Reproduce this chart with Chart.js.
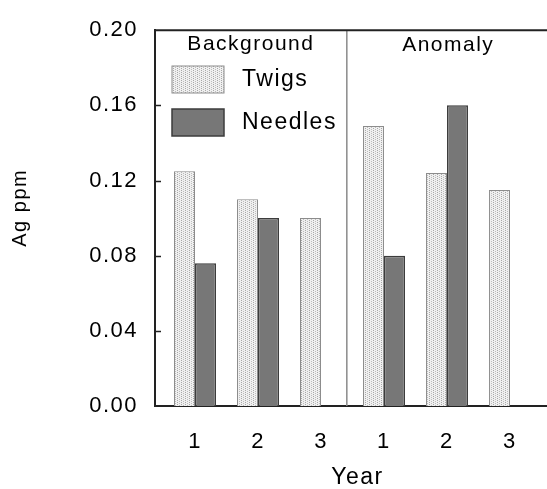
<!DOCTYPE html>
<html>
<head>
<meta charset="utf-8">
<script src="https://cdn.jsdelivr.net/npm/chart.js@4/dist/chart.umd.min.js"></script>
<style>
  html, body { margin: 0; padding: 0; background: #fff; }
  #wrap { width: 547px; height: 489px; overflow: hidden; }
</style>
</head>
<body>
<div id="wrap"><canvas id="agChart" width="562" height="489"></canvas></div>
<script>
// Ag concentration in spruce samples, three sampling years per site
const groups = ['Background', 'Anomaly'];
const years = ['1', '2', '3', '1', '2', '3'];
const twigs = [0.125, 0.110, 0.100, 0.149, 0.124, 0.115];
const needles = [0.076, 0.100, null, 0.080, 0.160, null];
const yTicks = [0.00, 0.04, 0.08, 0.12, 0.16, 0.20];

const INK = '#000';
const FONT = "'Liberation Sans', Arial, sans-serif";

// light stipple used for the twig bars
function stipple() {
    const c = document.createElement('canvas');
    c.width = 4; c.height = 2;
    const g = c.getContext('2d');
    g.fillStyle = '#f0f0f0';
    g.fillRect(0, 0, 4, 2);
    g.fillStyle = '#a8a8a8';
    g.fillRect(1, 0, 1, 1);
    g.fillStyle = '#bdbdbd';
    g.fillRect(3, 1, 1, 1);
    return g.createPattern(c, 'repeat');
}

const canvas = document.getElementById('agChart');
const ctx = canvas.getContext('2d');

const framePlugin = {
    id: 'frame',
    beforeUpdate(chart) { chart.ctx.letterSpacing = '1.5px'; },
    beforeDraw(chart) { chart.ctx.letterSpacing = '1.5px'; },
    afterDatasetsDraw(chart) {
        const { ctx, chartArea: a, scales } = chart;
        const x = scales.x, y = scales.y;
        ctx.save();

        // divider between the two sites
        const dx = x.getPixelForValue(3.41);
        ctx.strokeStyle = '#8a8a8a';
        ctx.lineWidth = 1.5;
        ctx.beginPath();
        ctx.moveTo(dx, a.top);
        ctx.lineTo(dx, a.bottom);
        ctx.stroke();

        // top frame line
        ctx.strokeStyle = '#222';
        ctx.lineWidth = 2;
        ctx.beginPath();
        ctx.moveTo(a.left, a.top);
        ctx.lineTo(a.right + 2, a.top);
        ctx.stroke();

        // inward tick marks on the y axis
        ctx.lineWidth = 1.5;
        yTicks.slice(1, -1).forEach(v => {
            const py = Math.round(y.getPixelForValue(v)) + 0.5;
            ctx.beginPath();
            ctx.moveTo(a.left, py);
            ctx.lineTo(a.left + 6, py);
            ctx.stroke();
        });

        ctx.letterSpacing = '1.5px';
        ctx.fillStyle = INK;
        ctx.textBaseline = 'middle';

        // y axis title
        ctx.save();
        ctx.translate(20, y.getPixelForValue(0.1055));
        ctx.rotate(-Math.PI / 2);
        ctx.textAlign = 'center';
        ctx.font = '20px ' + FONT;
        ctx.fillText('Ag ppm', 0, 0);
        ctx.restore();

        // site labels
        ctx.font = '21px ' + FONT;
        ctx.textAlign = 'center';
        ctx.fillText(groups[0], (a.left + dx) / 2, 44);
        ctx.fillText(groups[1], x.getPixelForValue(5.02), 45);

        // legend
        const ds = chart.data.datasets;
        const rows = [80, 123];
        ctx.font = '23px ' + FONT;
        ctx.textAlign = 'left';
        ds.forEach((d, i) => {
            ctx.fillStyle = d.backgroundColor;
            ctx.fillRect(a.left + 17, rows[i] - 14, 52, 27);
            ctx.strokeStyle = d.borderColor;
            ctx.lineWidth = d.borderWidth;
            ctx.strokeRect(a.left + 17, rows[i] - 14, 52, 27);
            ctx.fillStyle = INK;
            ctx.fillText(d.label, a.left + 87, rows[i]);
        });
        ctx.restore();
    }
};

new Chart(ctx, {
    type: 'bar',
    data: {
        datasets: [{
            label: 'Twigs',
            data: twigs.map((v, i) => ({ x: i + 1, y: v })),
            backgroundColor: stipple(),
            borderColor: '#8c8c8c',
            borderWidth: 1
        }, {
            label: 'Needles',
            data: needles.map((v, i) => ({ x: i + 1, y: v })),
            backgroundColor: '#777777',
            borderColor: '#3c3c3c',
            borderWidth: 1.5
        }]
    },
    options: {
        responsive: false,
        animation: false,
        devicePixelRatio: 1,
        categoryPercentage: 0.667,
        barPercentage: 1,
        layout: { padding: { top: 20, right: 2, left: 0, bottom: 0 } },
        plugins: {
            legend: { display: false },
            tooltip: { enabled: false }
        },
        scales: {
            x: {
                type: 'linear',
                offset: false,
                min: 0.365,
                max: 6.794,
                grid: { display: false, offset: false, drawTicks: false },
                border: { display: true, color: '#222', width: 2 },
                ticks: {
                    stepSize: 1,
                    includeBounds: false,
                    padding: 23,
                    color: INK,
                    font: { family: FONT, size: 22 },
                    callback: v => years[v - 1]
                },
                title: {
                    display: true,
                    text: 'Year',
                    color: INK,
                    font: { family: FONT, size: 23, lineHeight: 1 },
                    padding: { top: 0, bottom: 0 }
                },
                afterFit: s => { s.height = 83; }
            },
            y: {
                min: 0,
                max: 0.2,
                grid: { display: false, drawTicks: false },
                border: { display: true, color: '#222', width: 2 },
                afterBuildTicks: s => { s.ticks = yTicks.map(v => ({ value: v })); },
                ticks: {
                    padding: 17,
                    color: INK,
                    font: { family: FONT, size: 22 },
                    callback: v => v.toFixed(2)
                },
                afterFit: s => { s.width = 155; }
            }
        }
    },
    plugins: [framePlugin]
});
</script>
</body>
</html>
